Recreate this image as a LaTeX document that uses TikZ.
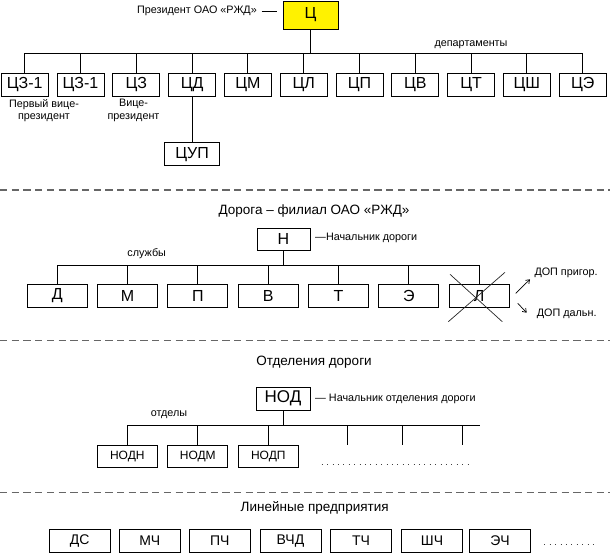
\documentclass[tikz,border=0pt]{standalone}
\usepackage{fontspec}
\setmainfont{Liberation Sans}
\usetikzlibrary{calc,arrows.meta}
\begin{document}
\begin{tikzpicture}[x=1pt,y=-1pt,
  box/.style={draw=black, line width=1pt, inner sep=0pt, minimum height=23pt, text=black},
  topbox/.style={box, minimum width=47pt, font=\fontsize{16}{18}\selectfont},
  midbox/.style={box, minimum width=60pt, font=\fontsize{16}{18}\selectfont},
  nodbox/.style={box, minimum width=60pt, minimum height=22.3pt, font=\fontsize{12}{14}\selectfont},
  linbox/.style={box, minimum width=61pt, font=\fontsize{14}{16}\selectfont},
  conn/.style={draw=black, line width=0.9pt},
  sep/.style={draw=black!60, line width=1.2pt, dash pattern=on 7.3pt off 4.4pt},
  dotline/.style={draw=black!75, line width=1pt, dash pattern=on 1pt off 4.4pt},
  crossline/.style={draw=black!85, line width=0.7pt},
  small/.style={font=\fontsize{10.8}{12.5}\selectfont, inner sep=0pt, text=black},
  title/.style={font=\fontsize{13.5}{15}\selectfont, inner sep=0pt, text=black},
]
\useasboundingbox (0,0) rectangle (610,555);

% ---------- Section 1 ----------
\node[topbox, fill=yellow, minimum width=55pt, minimum height=28pt] (C) at (310.5,15) {Ц};
\node[small, anchor=east] (pres) at (257,11) {Президент ОАО «РЖД»};
\coordinate (presd) at (277,11);
\draw[conn, line width=0.8pt] ($(pres.east)+(4.7,0)$) -- (presd);

\coordinate (bus1) at (0,53.3);
\foreach \n/\t/\x in {1/ЦЗ-1/24.7, 2/ЦЗ-1/80.5, 3/ЦЗ/136.3, 4/ЦД/192.1, 5/ЦМ/247.9, 6/ЦЛ/303.7, 7/ЦП/359.5, 8/ЦВ/415.3, 9/ЦТ/471.1, 10/ЦШ/526.9, 11/ЦЭ/582.7}
  \node[topbox] (t\n) at (\x,84.5) {\t};
\draw[conn] (C.south) -- (C.south |- bus1);
\draw[conn] (t1.north |- bus1) -- (t11.north |- bus1);
\foreach \n in {1,...,11}
  \draw[conn] (t\n.north) -- (t\n.north |- bus1);

\node[topbox, minimum width=55pt] (cup) at (192.1,154.2) {ЦУП};
\draw[conn] (t4.south) -- (cup.north);

\node[small, align=center] (fvp) at (44,110.5) {Первый вице-\\президент};
\node[small, align=center] (vp) at (133.5,110.5) {Вице-\\президент};
\node[small] (dep) at (471,45) {департаменты};

\coordinate (s1a) at (0,190);
\coordinate (s1b) at (610,190);
\draw[sep] (s1a) -- (s1b);

% ---------- Section 2 ----------
\node[title] (road) at (314,211) {Дорога – филиал ОАО «РЖД»};
\node[box, minimum width=53pt, minimum height=22pt, font=\fontsize{16}{18}\selectfont] (H) at (283.5,239) {Н};
\node[small, anchor=west] (Hlab) at (315,238.3) {—Начальник дороги};
\node[small] (sl) at (146.7,253.3) {службы};

\coordinate (bus2) at (0,265);
\foreach \n/\t/\x in {1/Д/57.2, 2/М/127.5, 3/П/197.9, 4/В/268.2, 5/Т/338.5, 6/Э/408.9, 7/Л/479.2}
  \node[midbox] (m\n) at (\x,295.8) {\t};
\draw[conn] (H.south) -- (H.south |- bus2);
\draw[conn] (m1.north |- bus2) -- (m7.north |- bus2);
\foreach \n in {1,...,7}
  \draw[conn] (m\n.north) -- (m\n.north |- bus2);

\draw[crossline] ($(m7.center)+(-29.2,-21.5)$) -- ($(m7.center)+(23.1,25.9)$);
\draw[crossline] ($(m7.center)+(-30.9,25.9)$) -- ($(m7.center)+(25.8,-23.5)$);

\node[small, anchor=west] (dop1) at (534.3,273.3) {ДОП пригор.};
\node[small, anchor=west] (dop2) at (536.7,313.3) {ДОП дальн.};
\coordinate (a1s) at (515.7,293.3);
\coordinate (a1e) at (530,279.3);
\coordinate (a2s) at (517.7,303.3);
\coordinate (a2e) at (526.7,312.7);
\draw[conn, line width=0.7pt, -{Straight Barb[length=3.5pt,width=5pt]}] (a1s) -- (a1e);
\draw[conn, line width=0.7pt, -{Straight Barb[length=3.5pt,width=5pt]}] (a2s) -- (a2e);

\coordinate (s2a) at (0,340.7);
\coordinate (s2b) at (610,340.7);
\draw[sep] (s2a) -- (s2b);

% ---------- Section 3 ----------
\node[title] (otd) at (314,362) {Отделения дороги};
\node[box, minimum width=54pt, font=\fontsize{17}{19}\selectfont] (NOD) at (283,398.7) {НОД};
\node[small, anchor=west] (NODlab) at (315,399.3) {— Начальник отделения дороги};
\node[small] (otdl) at (169,414.3) {отделы};

\coordinate (bus3) at (0,425.7);
\coordinate (busend) at (480,425.7);
\foreach \n/\t/\x in {1/НОДН/127.3, 2/НОДМ/197.8, 3/НОДП/268.3}
  \node[nodbox] (n\n) at (\x,456.2) {\t};
\draw[conn] (NOD.south) -- (NOD.south |- bus3);
\draw[conn] (n1.north |- bus3) -- (busend);
\foreach \n in {1,2,3}
  \draw[conn] (n\n.north) -- (n\n.north |- bus3);
\foreach \x [count=\i] in {347.3,402.3,462.3} {
  \coordinate (e\i) at (\x,445);
  \draw[conn] (e\i |- bus3) -- (e\i);
}
\coordinate (d1a) at (321.7,464.3);
\coordinate (d1b) at (472,464.3);
\draw[dotline] (d1a) -- (d1b);

\coordinate (s3a) at (0,492.7);
\coordinate (s3b) at (610,492.7);
\draw[sep] (s3a) -- (s3b);

% ---------- Section 4 ----------
\node[title] (lin) at (314.7,507.7) {Линейные предприятия};
\foreach \n/\t/\x in {1/ДС/79.7, 2/МЧ/149.7, 3/ПЧ/219.7, 4/ВЧД/290.5, 5/ТЧ/361, 6/ШЧ/432, 7/ЭЧ/500}
  \node[linbox] (b\n) at (\x,540.8) {\t};
\coordinate (d2a) at (544.3,544);
\coordinate (d2b) at (593,544);
\draw[dotline] (d2a) -- (d2b);

\end{tikzpicture}
\end{document}
